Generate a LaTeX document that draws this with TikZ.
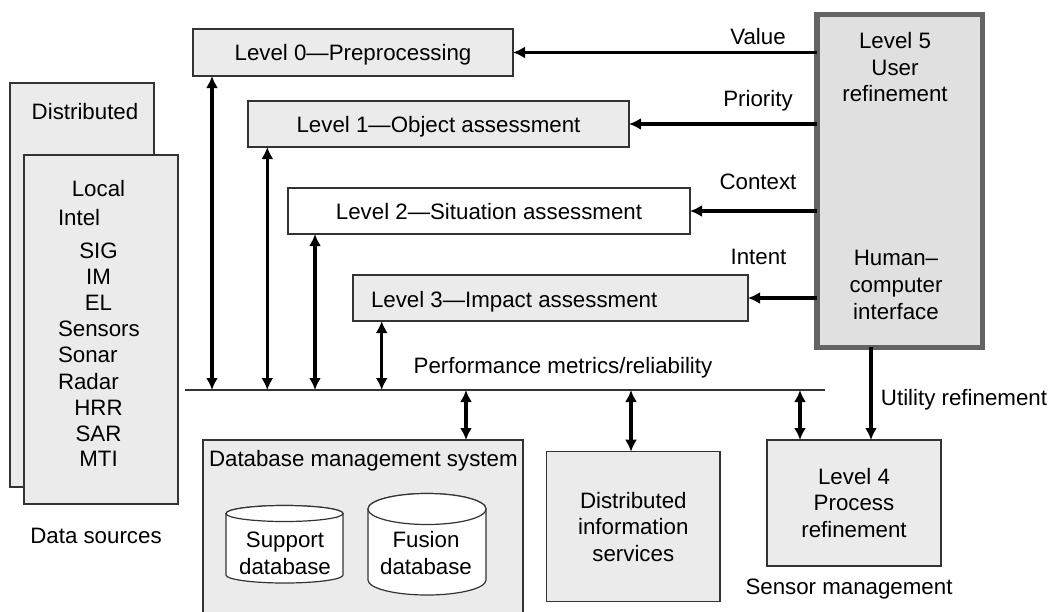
\documentclass[tikz,border=0pt]{standalone}
\usepackage{fontspec}
\setmainfont{Liberation Sans}
\usetikzlibrary{arrows.meta}
\definecolor{boxfill}{HTML}{EBEBEB}
\definecolor{lvfill}{HTML}{E0E0E0}
\definecolor{lvborder}{HTML}{636363}
\definecolor{edge}{HTML}{333333}
\begin{document}
\begin{tikzpicture}[x=1pt,y=-1pt,
  every node/.style={font=\fontsize{22.3}{26.5}\selectfont, inner sep=0pt, outer sep=0pt},
  one/.style={text height=16pt, text depth=0pt},
  box/.style={draw=edge, line width=1.2pt, fill=boxfill},
  wbox/.style={draw=edge, line width=1.2pt, fill=white},
  cyl/.style={draw=edge, line width=1.2pt, fill=white},
  arr/.style={line width=3.2pt, -{Latex[length=12pt,width=12pt]}},
  darr/.style={line width=3.2pt, {Latex[length=12pt,width=12pt]}-{Latex[length=12pt,width=12pt]}},
  bus/.style={line width=1.3pt, draw=edge}
]
\useasboundingbox[fill=white] (0,0) rectangle (1050,611);

% data sources
\node[box, minimum width=144, minimum height=404] (dist) at (82,285) {};
\node[box, minimum width=154, minimum height=349] (local) at (101,329.5) {};
\node[one] (tdist) at (85,111.5) {Distributed};
\node[one] (tlocal) at (98.5,188) {Local};
\node[one, anchor=west] (tintel) at (58,217) {Intel};
\node[one] (tsig) at (98.5,250) {SIG};
\node[one] (tim) at (98.5,276) {IM};
\node[one] (tel) at (98.5,302) {EL};
\node[one, anchor=west] (tsens) at (58,328) {Sensors};
\node[one, anchor=west] (tsonar) at (58,354) {Sonar};
\node[one, anchor=west] (tradar) at (58,381) {Radar};
\node[one] (thrr) at (98.5,407) {HRR};
\node[one] (tsar) at (98.5,433) {SAR};
\node[one] (tmti) at (98.5,458) {MTI};
\node[one] (tds) at (96,535.5) {Data sources};

% level boxes
\node[box, one, minimum width=320, minimum height=47] (L0) at (353,52.5) {Level 0---Preprocessing};
\node[box, one, minimum width=381, minimum height=46] (L1) at (438.5,124) {Level 1---Object assessment};
\node[wbox, one, minimum width=402, minimum height=46] (L2) at (489,211) {Level 2---Situation assessment};
\node[box, minimum width=395, minimum height=46] (L3) at (550.5,298) {};
\node[one, anchor=west] (tL3) at (371,299) {Level 3---Impact assessment};

% level 5
\node[draw=lvborder, line width=5.5pt, fill=lvfill, minimum width=165.5, minimum height=332.8] (L5) at (899.5,181) {};
\node[align=center] (tL5a) at (895,67.5) {Level 5\\User\\refinement};
\node[align=center, font=\fontsize{22.3}{27}\selectfont] (tL5b) at (896,284.5) {Human--\\computer\\interface};

% arrows from level 5
\draw[arr] (L5.west |- L0.east) -- (L0.east);
\draw[arr] (L5.west |- L1.east) -- (L1.east);
\draw[arr] (L5.west |- L2.east) -- (L2.east);
\draw[arr] (L5.west |- L3.east) -- (L3.east);
\node[one] (tval) at (758,36) {Value};
\node[one] (tpri) at (758,98.3) {Priority};
\node[one] (tcon) at (758,181) {Context};
\node[one] (tint) at (758.5,256) {Intent};

% bus
\coordinate (busL) at (185,390);
\coordinate (busR) at (825,390);
\draw[bus] (busL) -- (busR);
\node[one] (tperf) at (563,365) {Performance metrics/reliability};

\coordinate (v0) at (212,390);
\coordinate (v1) at (267.3,390);
\coordinate (v2) at (315,390);
\coordinate (v3) at (381.7,390);
\coordinate (v4) at (466,390);
\coordinate (v5) at (631,390);
\coordinate (v6) at (800,390);
\draw[darr] (v0) -- (v0 |- L0.south);
\draw[darr] (v1) -- (v1 |- L1.south);
\draw[darr] (v2) -- (v2 |- L2.south);
\draw[darr] (v3) -- (v3 |- L3.south);

% database management system
\begin{scope}
\clip (0,0) rectangle (1050,611);
\node[box, minimum width=320, minimum height=200] (DB) at (363,540) {};
\end{scope}
\node[one, anchor=west] (tDB) at (209,458) {Database management system};
\draw[darr] (v4) -- (v4 |- DB.north);

% cylinders
\filldraw[cyl] (226,513.5) -- (226,575) arc[start angle=180,end angle=360,x radius=58.5pt,y radius=8pt] -- (343,513.5) arc[start angle=0,end angle=180,x radius=58.5pt,y radius=8pt] -- cycle;
\draw[cyl] (284.5,513.5) ellipse [x radius=58.5pt, y radius=8pt];
\node[align=center] (tsup) at (285,553.5) {Support\\database};
\filldraw[cyl] (368,509) -- (368,580) arc[start angle=180,end angle=360,x radius=59pt,y radius=15pt] -- (486,509) arc[start angle=0,end angle=180,x radius=59pt,y radius=15.5pt] -- cycle;
\draw[cyl] (427,509) ellipse [x radius=59pt, y radius=15.5pt];
\node[align=center] (tfus) at (426,553) {Fusion\\database};

% distributed information services
\node[box, align=center, minimum width=173.3, minimum height=150] (DIS) at (633.3,526.7) {Distributed\\information\\services};
\draw[darr] (v5) -- (v5 |- DIS.north);

% level 4
\node[box, align=center, minimum width=174, minimum height=126] (L4) at (854,503) {Level 4\\Process\\refinement};
\draw[darr] (v6) -- (v6 |- L4.north);
\coordinate (u) at (871,0);
\draw[arr] (u |- L5.south) -- (u |- L4.north);
\node[one] (tutil) at (964,397.5) {Utility refinement};
\node[one] (tsm) at (849,586) {Sensor management};
\end{tikzpicture}
\end{document}
